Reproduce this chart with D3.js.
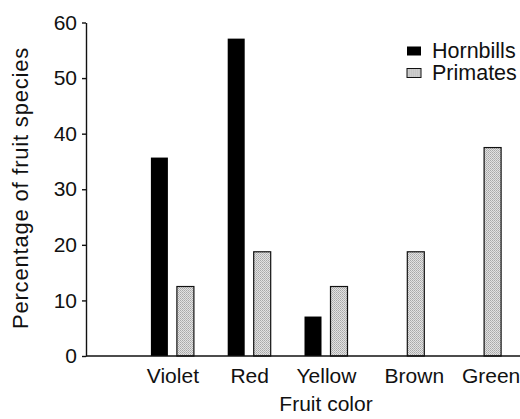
<!DOCTYPE html>
<html>
<head>
<meta charset="utf-8">
<script src="https://cdn.jsdelivr.net/npm/d3@7"></script>
<style>
  body { margin: 0; background: #fff; }
  svg { display: block; font-family: "Liberation Sans", Arial, sans-serif; }
</style>
</head>
<body>
<script>
// data
var colors = ["Violet", "Red", "Yellow", "Brown", "Green"];
var series = ["Hornbills", "Primates"];
var hornbills = [35.7, 57.1, 7.1, 0, 0];
var primates = [12.5, 18.75, 12.5, 18.75, 37.5];
var yTicks = [0, 10, 20, 30, 40, 50, 60];

var width = 520, height = 419;

var svg = d3.select("body").append("svg")
    .attr("width", width)
    .attr("height", height);

// stippled grey fill for the primate bars
var pat = svg.append("defs").append("pattern")
    .attr("id", "stipple")
    .attr("width", 2).attr("height", 2)
    .attr("patternUnits", "userSpaceOnUse");
pat.append("rect").attr("width", 2).attr("height", 2).attr("fill", "#e2e2e2");
pat.append("rect").attr("width", 1).attr("height", 1).attr("fill", "#a8a8a8");
pat.append("rect").attr("x", 1).attr("y", 1).attr("width", 1).attr("height", 1).attr("fill", "#b8b8b8");

var fills = { Hornbills: "#000", Primates: "url(#stipple)" };

var y = d3.scaleLinear().domain([0, 60]).range([356, 22.5]);
var x0 = d3.scalePoint().domain(colors).range([134, 518]).padding(0.5);
var x1 = d3.scaleBand().domain(series).range([-21.5, 21.5]).paddingInner(9 / 26);

var rows = [];
colors.forEach(function(c, i) {
    rows.push({ cat: c, s: "Hornbills", v: hornbills[i] });
    rows.push({ cat: c, s: "Primates", v: primates[i] });
});

svg.selectAll("rect.bar")
    .data(rows.filter(function(d) { return d.v > 0; }))
    .enter()
        .append("rect")
        .attr("class", "bar")
        .attr("x", function(d) { return x0(d.cat) + x1(d.s); })
        .attr("width", x1.bandwidth())
        .attr("y", function(d) { return y(d.v); })
        .attr("height", function(d) { return y(0) - y(d.v); })
        .attr("fill", function(d) { return fills[d.s]; })
        .attr("stroke", "#111")
        .attr("stroke-width", function(d) { return d.s == "Primates" ? 1.2 : 0; });

// y axis
var yAxis = svg.append("g")
    .attr("transform", "translate(86,0)")
    .call(d3.axisLeft(y).tickValues(yTicks).tickSize(4).tickPadding(5).tickSizeOuter(0));
yAxis.select(".domain").attr("stroke", "#111").attr("stroke-width", 1.4);
yAxis.selectAll(".tick line").attr("stroke", "#111").attr("stroke-width", 1.4);
yAxis.selectAll("text")
    .attr("font-size", 21)
    .attr("fill", "#111")
    .attr("font-family", "Liberation Sans, Arial, sans-serif");

// x axis
var xAxis = svg.append("g")
    .attr("transform", "translate(0,356)")
    .call(d3.axisBottom(x0).tickSize(0).tickPadding(12));
xAxis.select(".domain").attr("d", "M86,0H520").attr("stroke", "#111").attr("stroke-width", 1.4);
xAxis.selectAll("text")
    .attr("font-size", 21)
    .attr("fill", "#111")
    .attr("font-family", "Liberation Sans, Arial, sans-serif")
    // colors with only a primate bar have their label under that bar
    .attr("x", function(d) {
        var i = colors.indexOf(d);
        return hornbills[i] > 0 ? 0 : x1("Primates") + x1.bandwidth() / 2 - 2;
    });

// axis titles
svg.append("text")
    .attr("x", 326).attr("y", 411)
    .attr("text-anchor", "middle")
    .attr("font-size", 21)
    .attr("fill", "#111")
    .text("Fruit color");

svg.append("text")
    .attr("transform", "translate(28,188) rotate(-90)")
    .attr("text-anchor", "middle")
    .attr("font-size", 22)
    .attr("letter-spacing", 0.8)
    .attr("fill", "#111")
    .text("Percentage of fruit species");

// legend
var legend = svg.selectAll("g.legend")
    .data(series)
    .enter()
        .append("g")
        .attr("class", "legend")
        .attr("transform", function(d, i) { return "translate(407," + (46.5 + i * 22) + ")"; });
legend.append("rect")
    .attr("width", 14).attr("height", 9)
    .attr("fill", function(d) { return fills[d]; })
    .attr("stroke", "#111")
    .attr("stroke-width", function(d) { return d == "Primates" ? 1 : 0; });
legend.append("text")
    .attr("x", 25).attr("y", 11)
    .attr("font-size", 21.5)
    .attr("fill", "#111")
    .text(function(d) { return d; });
</script>
</body>
</html>
